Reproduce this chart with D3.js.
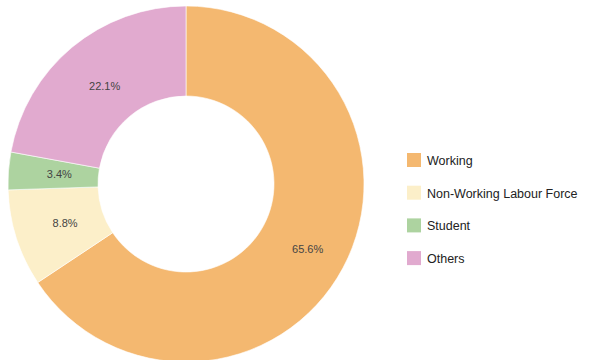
<!DOCTYPE html>
<html>
<head>
<meta charset="utf-8">
<title>Donut</title>
<script src="https://cdn.jsdelivr.net/npm/d3@7"></script>
<style>
  body { margin: 0; background: #fff; }
  text { font-family: "Liberation Sans", Arial, sans-serif; }
</style>
</head>
<body>
<div id="chart"></div>
<script>
const categories = ["Working", "Non-Working Labour Force", "Student", "Others"];
const values = [65.6, 8.8, 3.4, 22.1];
const colors = ["#f4b870", "#fcefc9", "#add3a0", "#e1aacf"];

const width = 592, height = 360;
const cx = 186, cy = 184;
const outerR = 178, innerR = 88;

const svg = d3.select("#chart").append("svg")
    .attr("width", width)
    .attr("height", height);

const data = categories.map(function(c, i) { return {name: c, value: values[i], color: colors[i]}; });

const pie = d3.pie()
    .sort(null)
    .value(function(d) { return d.value; });

const arc = d3.arc().innerRadius(innerR).outerRadius(outerR);
// les grandes parts ont leur etiquette un peu plus loin du centre
const smallLabelArc = d3.arc().innerRadius(127).outerRadius(127);
const bigLabelArc = d3.arc().innerRadius(138).outerRadius(138);

const g = svg.append("g")
    .attr("transform", "translate(" + cx + "," + cy + ")");

const arcs = pie(data);

g.selectAll("path.slice")
    .data(arcs)
    .enter().append("path")
    .attr("class", "slice")
    .attr("d", arc)
    .style("fill", function(d) { return d.data.color; })
    .style("stroke", "#fff")
    .style("stroke-width", "0.6px");

g.selectAll("text.val")
    .data(arcs)
    .enter().append("text")
    .attr("class", "val")
    .attr("transform", function(d) {
        var a = (d.endAngle - d.startAngle > Math.PI) ? bigLabelArc : smallLabelArc;
        return "translate(" + a.centroid(d) + ")";
    })
    .attr("text-anchor", "middle")
    .attr("dy", "0.35em")
    .style("font-size", "11px")
    .style("fill", "#444")
    .text(function(d) { return d.data.value.toFixed(1) + "%"; });

// legende
const legend = svg.append("g")
    .attr("transform", "translate(407,153)");

const row = legend.selectAll("g")
    .data(data)
    .enter().append("g")
    .attr("transform", function(d, i) { return "translate(0," + (i * 32.7) + ")"; });

row.append("rect")
    .attr("width", 14)
    .attr("height", 14)
    .style("fill", function(d) { return d.color; });

row.append("text")
    .attr("x", 20)
    .attr("y", 7.5)
    .attr("dy", "0.35em")
    .style("font-size", "12.5px")
    .style("fill", "#222")
    .text(function(d) { return d.name; });
</script>
</body>
</html>
